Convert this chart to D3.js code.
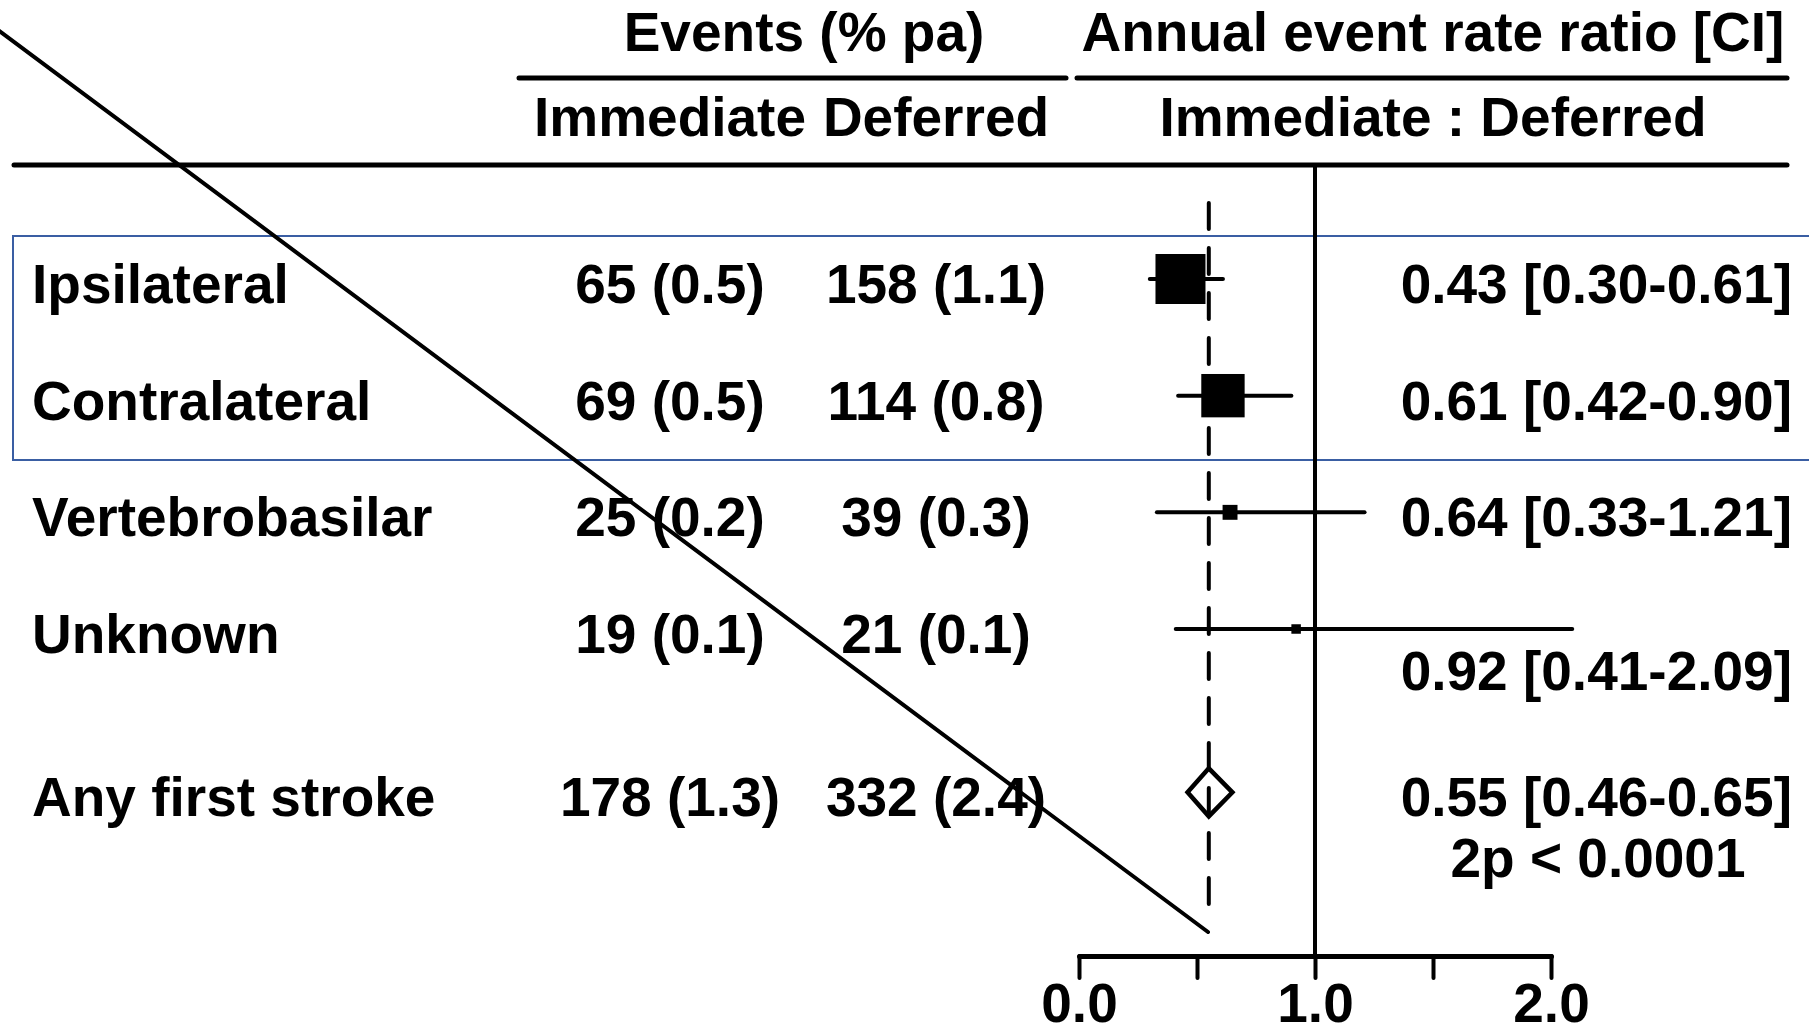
<!DOCTYPE html>
<html>
<head>
<meta charset="utf-8">
<script src="https://cdn.jsdelivr.net/npm/d3@7"></script>
<style>
  html, body { margin: 0; padding: 0; background: #fff; }
  svg text { font-family: "Liberation Sans", Arial, sans-serif; font-weight: bold; font-size: 55px; fill: #000; }
</style>
</head>
<body>
<svg id="chart" width="1809" height="1026"></svg>
<script>
// ---- data ----
const categories = ["Ipsilateral", "Contralateral", "Vertebrobasilar", "Unknown"];
const immediateEvents = ["65 (0.5)", "69 (0.5)", "25 (0.2)", "19 (0.1)"];
const deferredEvents = ["158 (1.1)", "114 (0.8)", "39 (0.3)", "21 (0.1)"];
const ratio = [0.43, 0.61, 0.64, 0.92];
const ciLow = [0.30, 0.42, 0.33, 0.41];
const ciHigh = [0.61, 0.90, 1.21, 2.09];

const totalLabel = "Any first stroke";
const totalImmediate = "178 (1.3)";
const totalDeferred = "332 (2.4)";
const totalRatio = 0.55;
const totalLow = 0.46;
const totalHigh = 0.65;
const totalP = "2p < 0.0001";

const tickValues = [0, 0.5, 1, 1.5, 2];
const tickLabels = ["0.0", "", "1.0", "", "2.0"];

// ---- layout ----
const svg = d3.select("#chart");
const x = d3.scaleLinear().domain([0, 2]).range([1079, 1551]);
const y = d3.scaleLinear().domain([0, 3]).range([279, 629]);
const totalIndex = 4.4;
const baseOff = 24;
const colImm = 670, colDef = 936, labelX = 32, ratioRight = 1792;

// marker size proportional to inverse variance of log ratio
const invVar = ratio.map((r, i) => 1 / Math.pow(Math.log(ciHigh[i] / ciLow[i]), 2));
const sizeScale = d3.scaleLinear().domain([0, d3.max(invVar)]).range([0, 50]);

const fmt = d3.format(".2f");
const ratioText = (r, lo, hi) => `${fmt(r)} [${fmt(lo)}-${fmt(hi)}]`;

// blue highlight box
svg.append("rect")
  .attr("x", 13).attr("y", 236)
  .attr("width", 1830).attr("height", 224)
  .attr("fill", "none").attr("stroke", "#3a5ea3").attr("stroke-width", 2);

// headers
svg.append("text").attr("x", 804).attr("y", 51).attr("text-anchor", "middle").text("Events (% pa)");
svg.append("text").attr("x", 1433).attr("y", 51).attr("text-anchor", "middle").text("Annual event rate ratio [CI]");
svg.append("text").attr("x", colImm).attr("y", 136).attr("text-anchor", "middle").text("Immediate");
svg.append("text").attr("x", colDef).attr("y", 136).attr("text-anchor", "middle").text("Deferred");
svg.append("text").attr("x", 1433).attr("y", 136).attr("text-anchor", "middle").text("Immediate : Deferred");

const lineStyle = sel => sel.attr("stroke", "#000").attr("stroke-linecap", "round");
lineStyle(svg.append("line").attr("x1", 519).attr("x2", 1066).attr("y1", 78).attr("y2", 78).attr("stroke-width", 5));
lineStyle(svg.append("line").attr("x1", 1077).attr("x2", 1787).attr("y1", 78).attr("y2", 78).attr("stroke-width", 5));
lineStyle(svg.append("line").attr("x1", 14).attr("x2", 1787).attr("y1", 165).attr("y2", 165).attr("stroke-width", 5));

// vertical line of no effect
lineStyle(svg.append("line").attr("x1", x(1)).attr("x2", x(1)).attr("y1", 165).attr("y2", 956).attr("stroke-width", 4));

// rows
const rows = svg.append("g");
categories.forEach((c, i) => {
  const cy = y(i);
  rows.append("text").attr("x", labelX).attr("y", cy + baseOff).text(c);
  rows.append("text").attr("x", colImm).attr("y", cy + baseOff).attr("text-anchor", "middle").text(immediateEvents[i]);
  rows.append("text").attr("x", colDef).attr("y", cy + baseOff).attr("text-anchor", "middle").text(deferredEvents[i]);
  rows.append("text").attr("x", ratioRight).attr("y", cy + (i === 3 ? 61 : baseOff)).attr("text-anchor", "end")
    .text(ratioText(ratio[i], ciLow[i], ciHigh[i]));
  lineStyle(rows.append("line").attr("x1", x(ciLow[i])).attr("x2", x(ciHigh[i])).attr("y1", cy).attr("y2", cy).attr("stroke-width", 4));
  const s = sizeScale(invVar[i]);
  rows.append("rect").attr("x", x(ratio[i]) - s / 2).attr("y", cy - s / 2).attr("width", s).attr("height", s).attr("fill", "#000");
});

// total row
const ty = y(totalIndex);
rows.append("text").attr("x", labelX).attr("y", ty + baseOff).text(totalLabel);
rows.append("text").attr("x", colImm).attr("y", ty + baseOff).attr("text-anchor", "middle").text(totalImmediate);
rows.append("text").attr("x", colDef).attr("y", ty + baseOff).attr("text-anchor", "middle").text(totalDeferred);
rows.append("text").attr("x", ratioRight).attr("y", ty + baseOff).attr("text-anchor", "end").text(ratioText(totalRatio, totalLow, totalHigh));
rows.append("text").attr("x", 1598).attr("y", ty + 85).attr("text-anchor", "middle").text(totalP);

// dashed line at overall estimate
lineStyle(svg.append("line").attr("x1", x(totalRatio)).attr("x2", x(totalRatio)).attr("y1", 203).attr("y2", 923)
  .attr("stroke-width", 4).attr("stroke-dasharray", "26,19").attr("stroke-linecap", "butt"));

// diamond
const dh = 24;
svg.append("path")
  .attr("d", `M${x(totalLow)},${ty} L${x(totalRatio)},${ty - dh} L${x(totalHigh)},${ty} L${x(totalRatio)},${ty + dh} Z`)
  .attr("fill", "none").attr("stroke", "#000").attr("stroke-width", 4.5).attr("stroke-linejoin", "miter");

// axis
const axis = d3.axisBottom(x).tickValues(tickValues).tickSize(22).tickSizeOuter(0)
  .tickFormat((d, i) => tickLabels[i]);
const ag = svg.append("g").attr("transform", "translate(0,956)").call(axis);
ag.select(".domain").attr("stroke", "#000").attr("stroke-width", 5).attr("stroke-linecap", "round");
ag.selectAll(".tick line").attr("stroke", "#000").attr("stroke-width", 4).attr("stroke-linecap", "round");
ag.selectAll(".tick text").attr("y", 66).attr("dy", 0).attr("font-size", null).attr("font-family", null)
  .style("font-size", "55px");

// diagonal line across the figure
lineStyle(svg.append("line").attr("x1", -2).attr("y1", 30).attr("x2", 1208).attr("y2", 932).attr("stroke-width", 4));
</script>
</body>
</html>
